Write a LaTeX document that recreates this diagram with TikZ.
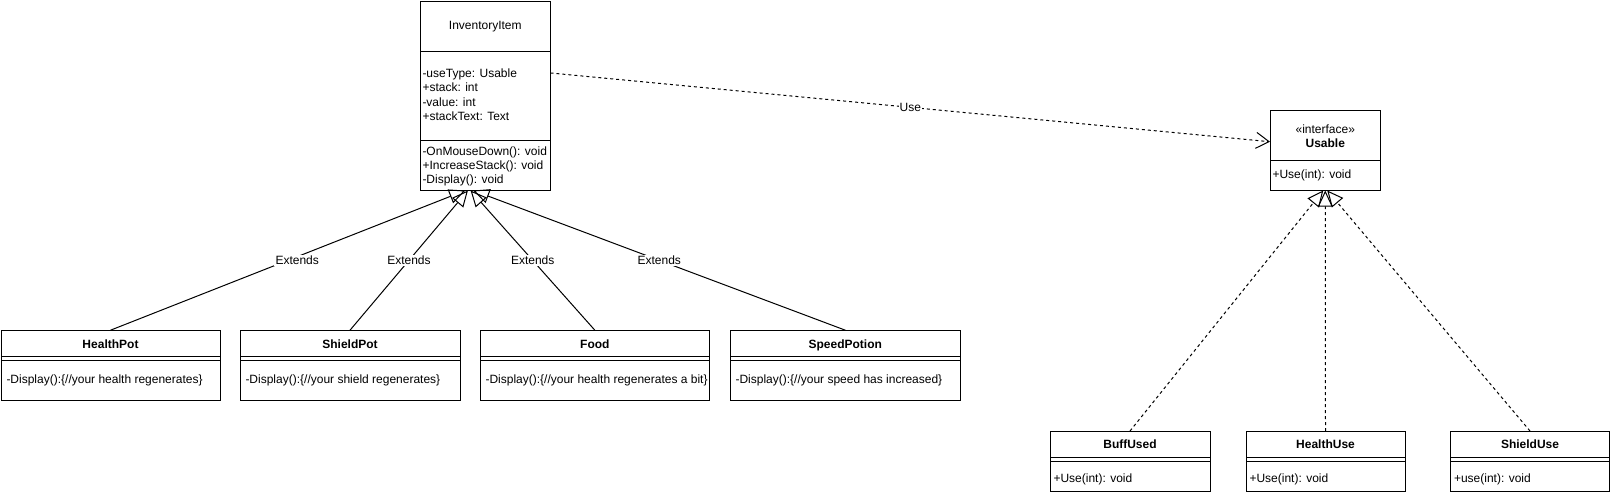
\documentclass[tikz,border=0pt]{standalone}
\usepackage{fontspec}
\setmainfont{Liberation Sans}
\usetikzlibrary{arrows.meta,fit}
\tikzset{
  umlbox/.style={draw, inner sep=0pt, fit={#1}},
  txt/.style={font=\fontsize{9}{10.8}\selectfont, inner sep=0pt},
  ttl/.style={font=\fontsize{9}{10.8}\selectfont\bfseries, inner sep=0pt, anchor=base},
  mem/.style={txt, anchor=base west},
  lbl/.style={font=\fontsize{9}{10.8}\selectfont, fill=white, inner sep=1pt},
  ext/.style={draw, -{Triangle[open, length=12pt, width=11pt]}},
  real/.style={draw, dash pattern=on 2.25pt off 2.25pt, -{Triangle[open, length=12pt, width=11pt]}},
  dep/.style={draw, dash pattern=on 2.25pt off 2.25pt, -{Straight Barb[length=9.75pt, width=12pt]}}
}
\begin{document}
\begin{tikzpicture}[x=0.75pt, y=-0.75pt, line width=0.75pt]
\useasboundingbox (0,0) rectangle (1611,494);

% InventoryItem
\node[umlbox={(420.5,1) (550,190)}] (inv) {};
\draw (420.5,51) -- (550,51);
\draw (420.5,140) -- (550,140);
\node[txt, anchor=base] (invT) at (485.3,29) {InventoryItem};
\node[mem] (invA1) at (422,77.2) {-useType: Usable};
\node[mem] (invA2) at (422,91.6) {+stack: int};
\node[mem] (invA3) at (422,106) {-value: int};
\node[mem] (invA4) at (422,120.4) {+stackText: Text};
\node[mem] (invM1) at (422,155) {-OnMouseDown(): void};
\node[mem] (invM2) at (422,169.4) {+IncreaseStack(): void};
\node[mem] (invM3) at (422,183.8) {-Display(): void};

% Usable
\node[umlbox={(1270.5,110.5) (1380,190)}] (use) {};
\draw (1270.5,160.5) -- (1380,160.5);
\node[txt, anchor=base] (useS) at (1325.3,133) {«interface»};
\node[ttl] (useT) at (1325.3,147) {Usable};
\node[mem] (useM) at (1272,178.5) {+Use(int): void};

% Left subclasses
\node[umlbox={(1,330.7) (220,400)}] (hp) {};
\draw (1,356.5) -- (220,356.5);
\draw (1,360.5) -- (220,360.5);
\node[ttl] (hpT) at (110.5,348.5) {HealthPot};
\node[mem] (hpM) at (6,383.5) {-Display():\{//your health regenerates\}};

\node[umlbox={(240,330.7) (460,400)}] (sp) {};
\draw (240,356.5) -- (460,356.5);
\draw (240,360.5) -- (460,360.5);
\node[ttl] (spT) at (350,348.5) {ShieldPot};
\node[mem] (spM) at (245,383.5) {-Display():\{//your shield regenerates\}};

\node[umlbox={(480.7,330.7) (709,400)}] (fd) {};
\draw (480.7,356.5) -- (709,356.5);
\draw (480.7,360.5) -- (709,360.5);
\node[ttl] (fdT) at (594.9,348.5) {Food};
\node[mem] (fdM) at (485,383.5) {-Display():\{//your health regenerates a bit\}};

\node[umlbox={(730.7,330.7) (960,400)}] (spd) {};
\draw (730.7,356.5) -- (960,356.5);
\draw (730.7,360.5) -- (960,360.5);
\node[ttl] (spdT) at (845.3,348.5) {SpeedPotion};
\node[mem] (spdM) at (735,383.5) {-Display():\{//your speed has increased\}};

% Right implementations
\node[umlbox={(1050,431.5) (1210,491)}] (bu) {};
\draw (1050,457.5) -- (1210,457.5);
\draw (1050,461.5) -- (1210,461.5);
\node[ttl] (buT) at (1130,448.5) {BuffUsed};
\node[mem] (buM) at (1053,482.5) {+Use(int): void};

\node[umlbox={(1246,431.5) (1405,491)}] (hu) {};
\draw (1246,457.5) -- (1405,457.5);
\draw (1246,461.5) -- (1405,461.5);
\node[ttl] (huT) at (1325.5,448.5) {HealthUse};
\node[mem] (huM) at (1249,482.5) {+Use(int): void};

\node[umlbox={(1450.5,431.5) (1609.5,491)}] (su) {};
\draw (1450.5,457.5) -- (1609.5,457.5);
\draw (1450.5,461.5) -- (1609.5,461.5);
\node[ttl] (suT) at (1530,448.5) {ShieldUse};
\node[mem] (suM) at (1453.5,482.5) {+use(int): void};

% Generalizations
\path[ext] (hp.north) -- node[lbl, xshift=7pt] {Extends} ([xshift=-15pt]inv.south);
\path[ext] (sp.north) -- node[lbl] {Extends} ([xshift=-13pt]inv.south);
\path[ext] (fd.north) -- node[lbl] {Extends} ([xshift=-11pt]inv.south);
\path[ext] (spd.north) -- node[lbl] {Extends} ([xshift=-9pt]inv.south);

% Realizations
\path[real] (bu.north) -- ([xshift=-1.5pt]use.south);
\path[real] (hu.north) -- ([xshift=0pt]use.south);
\path[real] (su.north) -- ([xshift=1.5pt]use.south);

% Dependency
\path[dep] ([yshift=16.9pt]inv.east) -- node[lbl, inner sep=0.5pt] {Use} ([yshift=6.4pt]use.west);
\end{tikzpicture}
\end{document}
